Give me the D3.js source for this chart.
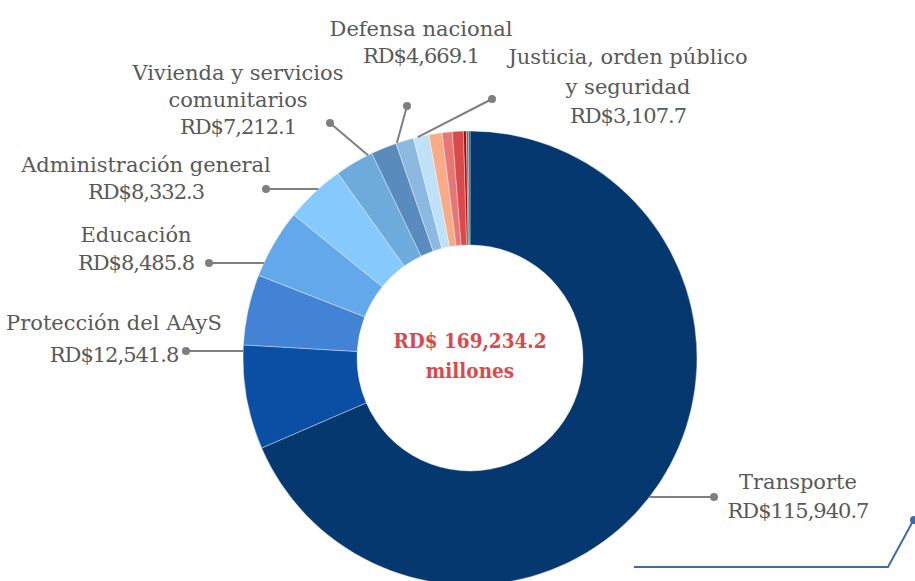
<!DOCTYPE html>
<html lang="es">
<head>
<meta charset="UTF-8" />
<title>Gasto por función</title>
<script src="https://d3js.org/d3.v7.min.js"></script>
<style>
  body { margin: 0; background: #fff; }
  svg { display: block; }
  .lbl { font-family: "DejaVu Serif", serif; font-size: 21px; fill: #595959; }
  .lbl .num { letter-spacing: -1px; }
  .center { font-family: "DejaVu Serif Condensed", "DejaVu Serif", serif; font-size: 20.5px; font-weight: bold; fill: #d94a4d; }
  .leader { stroke: #7f7f7f; stroke-width: 2; fill: none; }
</style>
</head>
<body>
<svg id="chart" width="915" height="581"></svg>
<script>
// datos (millones de RD$), en el orden del gráfico, a partir de las 12 en punto
const categories = [
  'Transporte', 'Protección del AAyS', 'Educación', 'Administración general',
  'Vivienda y servicios comunitarios', 'Defensa nacional', 'Justicia, orden público y seguridad',
  'Otra 1', 'Otra 2', 'Otra 3', 'Otra 4', 'Otra 5', 'Otra 6', 'Otra 7', 'Otra 8'
]
const values = [
  115940.7, 12541.8, 8485.8, 8332.3,
  7212.1, 4669.1, 3107.7,
  2160, 1875, 1585, 1214.7, 1330, 350, 240, 190
]
const colors = [
  '#05386f', '#0b4fa4', '#4283d6', '#62a8ea',
  '#86c9fc', '#6dabdc', '#5a8bbd',
  '#8bb9e1', '#bfe2f9', '#f7ab86', '#e97677', '#d94b4b', '#c00000', '#3a7c84', '#2f4f5f'
]

// texto de las etiquetas, por líneas
const labelLines = {
  'Transporte': ['Transporte'],
  'Protección del AAyS': ['Protección del AAyS'],
  'Educación': ['Educación'],
  'Administración general': ['Administración general'],
  'Vivienda y servicios comunitarios': ['Vivienda y servicios', 'comunitarios'],
  'Defensa nacional': ['Defensa nacional'],
  'Justicia, orden público y seguridad': ['Justicia, orden público', 'y seguridad']
}

// posición de etiquetas y líneas guía
const labelLayout = {
  'Transporte': { x: 798, y: 489, dy: 29, dot: [714, 497] },
  'Protección del AAyS': { x: 114, y: 330, dy: 32, dot: [186, 351] },
  'Educación': { x: 136, y: 242, dy: 28, dot: [209, 263] },
  'Administración general': { x: 146, y: 172, dy: 27, dot: [266, 189] },
  'Vivienda y servicios comunitarios': { x: 238, y: 80, dy: 27, dot: [330, 123], angle: 333.3 },
  'Defensa nacional': { x: 421, y: 36, dy: 27, dot: [407, 106], angle: 341.2 },
  'Justicia, orden público y seguridad': { x: 628, y: 64, dy: 29.5, dot: [492, 99], angle: 346.7 }
}

const cx = 470, cy = 358
const outerR = 227, innerR = 113
const fmt = d3.format(',.1f')

const svg = d3.select('#chart')
const g = svg.append('g').attr('transform', `translate(${cx},${cy})`)

const pie = d3.pie().sort(null).value(d => d)
const arc = d3.arc().innerRadius(innerR).outerRadius(outerR)
const arcs = pie(values)

g.selectAll('path.slice')
  .data(arcs)
  .enter()
  .append('path')
  .attr('class', 'slice')
  .attr('d', arc)
  .attr('fill', (d, i) => colors[i])
  .attr('stroke', '#ffffff')
  .attr('stroke-opacity', 0.6)
  .attr('stroke-width', 0.6)

// centro
const total = d3.sum(values)
g.append('text').attr('class', 'center').attr('text-anchor', 'middle').attr('y', -10)
  .text('RD$ ' + fmt(total))
g.append('text').attr('class', 'center').attr('text-anchor', 'middle').attr('y', 20)
  .text('millones')

// etiquetas con líneas guía
const labeled = categories
  .map((c, i) => ({ name: c, value: values[i] }))
  .filter(d => labelLayout[d.name])

labeled.forEach(d => {
  const L = labelLayout[d.name]
  const dx = L.dot[0] - cx, dy = L.dot[1] - cy
  let end
  if (L.angle !== undefined) {
    const a = L.angle * Math.PI / 180
    end = [outerR * Math.sin(a), -outerR * Math.cos(a)]
  } else {
    const sign = dx > 0 ? 1 : -1
    end = [sign * Math.sqrt(outerR * outerR - dy * dy), dy]
  }
  g.append('line').attr('class', 'leader')
    .attr('x1', dx).attr('y1', dy)
    .attr('x2', end[0]).attr('y2', end[1])
  g.append('circle').attr('cx', dx).attr('cy', dy).attr('r', 4).attr('fill', '#7f7f7f')

  const names = labelLines[d.name]
  const t = svg.append('text').attr('class', 'lbl').attr('text-anchor', 'middle')
  names.forEach((s, k) => {
    t.append('tspan').attr('x', L.x).attr('y', L.y + k * L.dy).text(s)
  })
  t.append('tspan').attr('class', 'num')
    .attr('x', L.x).attr('y', L.y + names.length * L.dy)
    .text('RD$' + fmt(d.value))
})

// línea decorativa inferior
svg.append('path')
  .attr('d', 'M634,567 H888 L913,521')
  .attr('fill', 'none').attr('stroke', '#3f6ca8').attr('stroke-width', 2)
svg.append('circle').attr('cx', 914).attr('cy', 520).attr('r', 4).attr('fill', '#3f6ca8')
</script>
</body>
</html>
